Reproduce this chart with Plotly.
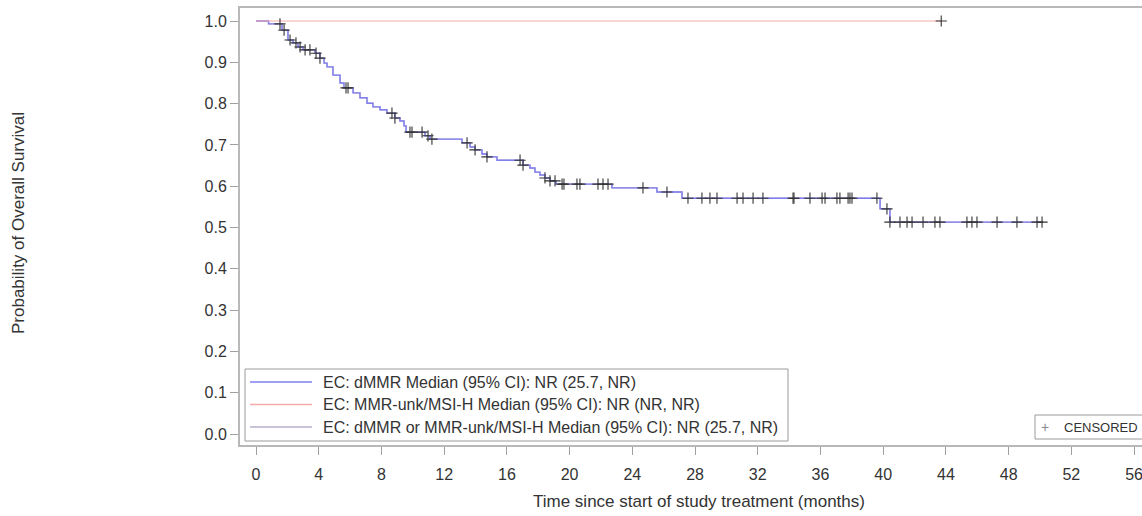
import numpy as np
import plotly.graph_objects as go

# ---- data ----
# dMMR KM curve: step times (months) and survival after each step
dmmr_times = [0, 0.8, 1.66, 2.04, 2.36, 2.68, 3.0, 3.76, 4.08, 4.34, 4.53, 4.91, 5.36, 5.61,
              6.19, 6.63, 7.08, 7.46, 7.91, 8.35, 8.86, 9.18, 9.44, 9.57, 10.78, 11.10,
              13.14, 13.65, 13.97, 14.41, 14.73, 15.37, 17.03, 17.47, 17.79, 18.11, 18.43,
              18.75, 19.13, 22.70, 25.57, 27.17, 39.80, 40.43]
dmmr_surv = [1.0, 0.993, 0.978, 0.954, 0.947, 0.937, 0.930, 0.922, 0.910, 0.898, 0.889, 0.869,
             0.850, 0.838, 0.826, 0.814, 0.801, 0.792, 0.785, 0.777, 0.765, 0.758, 0.746, 0.731,
             0.722, 0.714, 0.705, 0.695, 0.688, 0.678, 0.671, 0.663, 0.651, 0.644, 0.634,
             0.627, 0.620, 0.613, 0.605, 0.596, 0.586, 0.571, 0.545, 0.513]
dmmr_end = 50.2
dmmr_censor = [1.53, 1.79, 2.17, 2.55, 2.81, 3.13, 3.44, 3.83, 4.08, 5.74, 5.87, 8.67, 8.86,
               9.82, 9.95, 10.59, 10.97, 11.22, 13.46, 13.97, 14.73, 16.84, 17.03, 18.43,
               18.75, 19.07, 19.52, 19.64, 20.47, 20.66, 21.81, 22.13, 22.45, 24.68, 26.21,
               27.55, 28.44, 28.95, 29.40, 30.68, 31.06, 31.70, 32.33, 34.25, 34.31, 35.33,
               36.10, 36.29, 37.05, 37.24, 37.76, 37.88, 38.01, 39.60, 40.24, 40.43, 41.07,
               41.52, 41.84, 42.54, 43.30, 43.62, 45.34, 45.66, 45.98, 47.26, 48.53, 49.81,
               50.13]

# MMR-unk/MSI-H KM curve
unk_times = [0]
unk_surv = [1.0]
unk_end = 43.7
unk_censor = [43.7]

# Combined (dMMR or MMR-unk/MSI-H) curve: coincides with the dMMR curve in the picture
comb_times = list(dmmr_times)
comb_surv = list(dmmr_surv)
comb_end = dmmr_end

legend_labels = [
    "EC: dMMR Median (95% CI): NR (25.7, NR)",
    "EC: MMR-unk/MSI-H Median (95% CI): NR (NR, NR)",
    "EC: dMMR or MMR-unk/MSI-H Median (95% CI): NR (25.7, NR)",
]
x_ticks = list(range(0, 57, 4))
y_ticks = [round(v * 0.1, 1) for v in range(0, 11)]

BLUE = "#7f7ff0"
RED = "#f3abab"
GREY = "#b9aec9"
FONT = "Liberation Sans, Arial, sans-serif"
TXT = "#333333"


def step_xy(times, surv, end):
    return list(times) + [end], list(surv) + [surv[-1]]


def surv_at(times, surv, t):
    idx = np.searchsorted(np.array(times), t, side="right") - 1
    return surv[max(idx, 0)]


fig = go.Figure()

for times, surv, end, col, w in [(comb_times, comb_surv, comb_end, GREY, 1.3),
                                 (dmmr_times, dmmr_surv, dmmr_end, BLUE, 1.4),
                                 (unk_times, unk_surv, unk_end, RED, 1.0)]:
    x, y = step_xy(times, surv, end)
    fig.add_trace(go.Scatter(x=x, y=y, mode="lines", line=dict(color=col, width=w, shape="hv"),
                             showlegend=False, hoverinfo="skip"))

for times, surv, cens in [(dmmr_times, dmmr_surv, dmmr_censor), (unk_times, unk_surv, unk_censor)]:
    fig.add_trace(go.Scatter(x=cens, y=[surv_at(times, surv, t) for t in cens], mode="markers",
                             marker=dict(symbol="cross-thin", size=8,
                                         line=dict(color="#333333", width=1.1)),
                             showlegend=False, hoverinfo="skip"))

# layout geometry (pixels)
W, H = 1142, 516
L, R, T, B = 240, 0, 8, 71
PW, PH = W - L - R, H - T - B


def px(xp):
    return (xp - L) / PW


def py(yp):
    return (H - B - yp) / PH


shapes = []
annotations = []

# legend box
shapes.append(dict(type="rect", xref="paper", yref="paper", x0=px(245), x1=px(788), y0=py(441),
                   y1=py(369), line=dict(color="#9a9a9a", width=1), fillcolor="white", layer="above"))
for i, (lab, col) in enumerate(zip(legend_labels, [BLUE, RED, GREY])):
    yy = 382 + i * 22.5
    shapes.append(dict(type="line", xref="paper", yref="paper", x0=px(250), x1=px(312), y0=py(yy),
                       y1=py(yy), line=dict(color=col, width=1.4), layer="above"))
    annotations.append(dict(xref="paper", yref="paper", x=px(321), y=py(yy), text=lab,
                            showarrow=False, xanchor="left", yanchor="middle",
                            font=dict(family=FONT, size=16, color=TXT)))

# censored box
shapes.append(dict(type="rect", xref="paper", yref="paper", x0=px(1035), x1=px(1150), y0=py(439),
                   y1=py(415), line=dict(color="#9a9a9a", width=1), fillcolor="white", layer="above"))
annotations.append(dict(xref="paper", yref="paper", x=px(1045), y=py(427), text="+",
                        showarrow=False, xanchor="center", yanchor="middle",
                        font=dict(family=FONT, size=14, color="#8a8a8a")))
annotations.append(dict(xref="paper", yref="paper", x=px(1062), y=py(427), text="CENSORED",
                        showarrow=False, xanchor="left", yanchor="middle",
                        font=dict(family=FONT, size=13, color=TXT)))

# axis titles
annotations.append(dict(xref="paper", yref="paper", x=px(18), y=py(223),
                        text="Probability of Overall Survival", textangle=-90, showarrow=False,
                        xanchor="center", yanchor="middle",
                        font=dict(family=FONT, size=17, color=TXT)))
annotations.append(dict(xref="paper", yref="paper", x=px(699), y=py(502),
                        text="Time since start of study treatment (months)", showarrow=False,
                        xanchor="center", yanchor="middle",
                        font=dict(family=FONT, size=17, color=TXT)))

fig.update_layout(
    width=W, height=H,
    margin=dict(l=L, r=R, t=T, b=B, autoexpand=False),
    paper_bgcolor="white", plot_bgcolor="white",
    shapes=shapes, annotations=annotations,
    showlegend=False,
    xaxis=dict(range=[(240 - 256) / 15.68, (1142 - 256) / 15.68], tickvals=x_ticks,
               ticktext=[str(v) for v in x_ticks], ticks="outside", ticklen=8, tickcolor="#a0a0a0",
               ticklabelstandoff=6, ticklabeloverflow="allow",
               showline=True, linecolor="#b8b8b8", linewidth=2, mirror=True, showgrid=False,
               zeroline=False, tickfont=dict(family=FONT, size=16, color=TXT)),
    yaxis=dict(range=[-11 / 413, 1 + 13 / 413], tickvals=y_ticks,
               ticktext=[f"{v:.1f}" for v in y_ticks], ticks="outside", ticklen=8,
               tickcolor="#a0a0a0", showline=True, linecolor="#b8b8b8", linewidth=2,
               mirror=False, showgrid=False, zeroline=False,
               tickfont=dict(family=FONT, size=16, color=TXT)),
)

fig.write_html("out.html", config={"displayModeBar": False},
               post_script="document.body.style.margin='0';")
